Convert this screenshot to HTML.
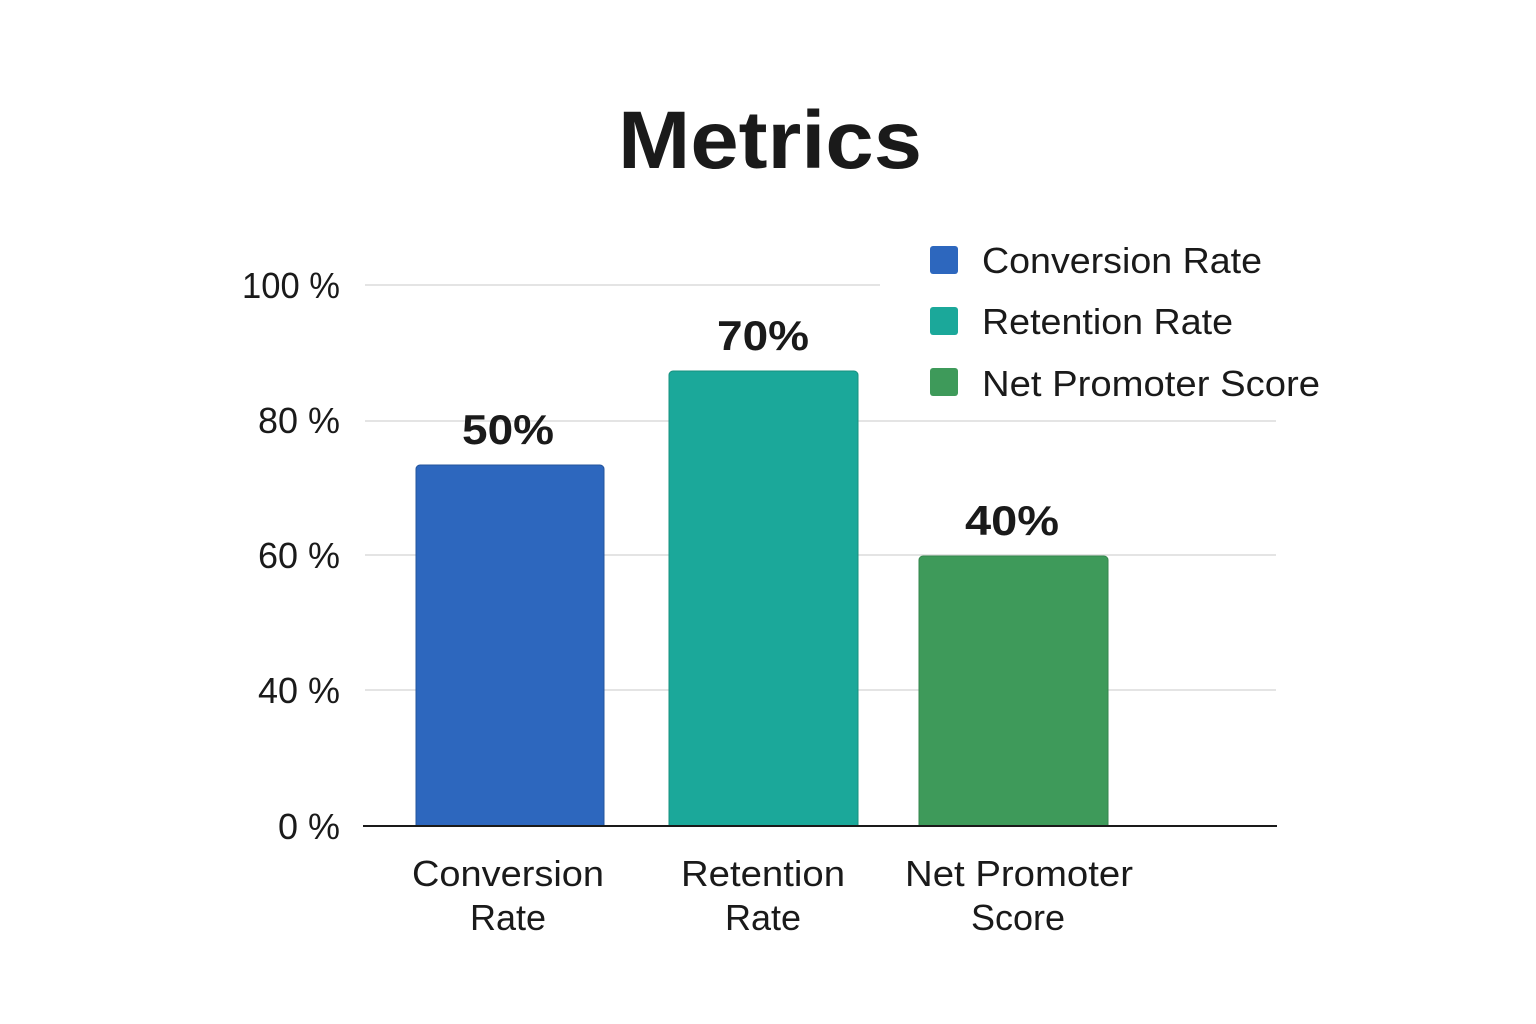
<!DOCTYPE html>
<html><head><meta charset="utf-8"><style>
html,body{margin:0;padding:0;background:#fff;}
svg{display:block;font-family:"Liberation Sans","DejaVu Sans",sans-serif;}
</style></head><body>
<svg width="1536" height="1024" viewBox="0 0 1536 1024">
<rect width="1536" height="1024" fill="#fff"/>
<text x="770" y="168" text-anchor="middle" font-size="82" font-weight="bold" fill="#1a1a1a" textLength="304" lengthAdjust="spacingAndGlyphs">Metrics</text>
<g stroke="#dcdcdc" stroke-width="1.5">
<line x1="365" y1="285" x2="880" y2="285"/>
<line x1="365" y1="421" x2="1276" y2="421"/>
<line x1="365" y1="555" x2="1276" y2="555"/>
<line x1="365" y1="690" x2="1276" y2="690"/>
</g>
<g font-size="36" fill="#1a1a1a" text-anchor="end">
<text x="340" y="298" textLength="98" lengthAdjust="spacingAndGlyphs">100 %</text>
<text x="340" y="433">80 %</text>
<text x="340" y="568">60 %</text>
<text x="340" y="703">40 %</text>
<text x="340" y="839">0 %</text>
</g>
<path d="M416,826 V469 a4,4 0 0 1 4,-4 H600 a4,4 0 0 1 4,4 V826 Z" fill="#2d67be" stroke="#24549c" stroke-width="1"/>
<path d="M669,826 V375 a4,4 0 0 1 4,-4 H854 a4,4 0 0 1 4,4 V826 Z" fill="#1ba89a" stroke="#17907f" stroke-width="1"/>
<path d="M919,826 V560 a4,4 0 0 1 4,-4 H1104 a4,4 0 0 1 4,4 V826 Z" fill="#3e9a5a" stroke="#34864d" stroke-width="1"/>
<line x1="363" y1="826" x2="1277" y2="826" stroke="#1a1a1a" stroke-width="2"/>
<g font-size="42" font-weight="bold" fill="#1a1a1a" text-anchor="middle">
<text x="508" y="444" textLength="92" lengthAdjust="spacingAndGlyphs">50%</text>
<text x="763" y="350" textLength="92" lengthAdjust="spacingAndGlyphs">70%</text>
<text x="1012" y="535" textLength="94" lengthAdjust="spacingAndGlyphs">40%</text>
</g>
<g font-size="36" fill="#1a1a1a" text-anchor="middle">
<text x="508" y="886" textLength="192" lengthAdjust="spacingAndGlyphs">Conversion</text><text x="508" y="930">Rate</text>
<text x="763" y="886" textLength="164" lengthAdjust="spacingAndGlyphs">Retention</text><text x="763" y="930">Rate</text>
<text x="1019" y="886" textLength="228" lengthAdjust="spacingAndGlyphs">Net Promoter</text><text x="1018" y="930">Score</text>
</g>
<rect x="930" y="246" width="28" height="28" rx="3" fill="#2d67be"/>
<rect x="930" y="307" width="28" height="28" rx="3" fill="#1ba89a"/>
<rect x="930" y="368" width="28" height="28" rx="3" fill="#3e9a5a"/>
<g font-size="36" fill="#1a1a1a">
<text x="982" y="273" textLength="280" lengthAdjust="spacingAndGlyphs">Conversion Rate</text>
<text x="982" y="334" textLength="251" lengthAdjust="spacingAndGlyphs">Retention Rate</text>
<text x="982" y="396" textLength="338" lengthAdjust="spacingAndGlyphs">Net Promoter Score</text>
</g>
</svg>
</body></html>
